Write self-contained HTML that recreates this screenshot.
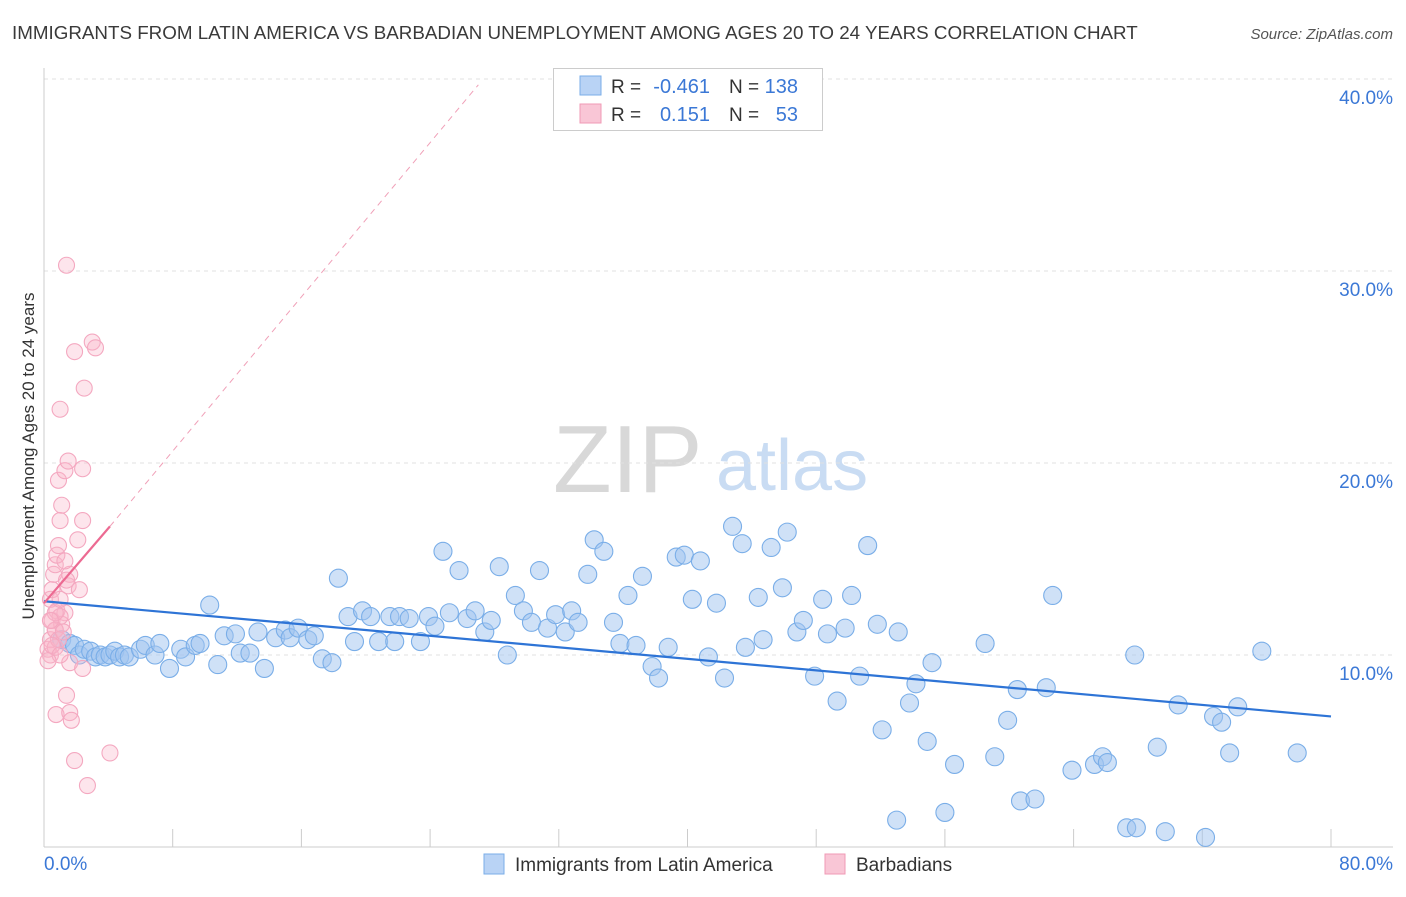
<!DOCTYPE html>
<html><head><meta charset="utf-8"><style>
body{margin:0;background:#fff;font-family:"Liberation Sans",sans-serif;}
svg text{font-family:"Liberation Sans",sans-serif;}
</style></head><body>
<svg id="chart" width="1406" height="892" xmlns="http://www.w3.org/2000/svg">
<text x="12" y="39" font-size="18.8" fill="#3a3a3a">IMMIGRANTS FROM LATIN AMERICA VS BARBADIAN UNEMPLOYMENT AMONG AGES 20 TO 24 YEARS CORRELATION CHART</text>
<text x="1393" y="39" font-size="15" fill="#555" font-style="italic" text-anchor="end">Source: ZipAtlas.com</text>
<g>
<text x="553" y="492" font-size="96" fill="#d8d8d8" font-family="Liberation Serif,serif">ZIP</text>
<text x="716" y="490" font-size="72" fill="#c9dcf3">atlas</text>
</g>
<g id="grid"></g><g id="axes"></g><g id="marks"></g><g id="lines"></g>
<g>
<rect x="553.5" y="68.5" width="269" height="62" fill="#fff" stroke="#ccc"/>
<rect x="580" y="76" width="21" height="19" fill="#b9d3f5" stroke="#7aaee8"/>
<rect x="580" y="104" width="21" height="19" fill="#f9c6d6" stroke="#f09ab5"/>
<text x="611" y="93" font-size="19" fill="#333">R =</text>
<text x="710" y="93" font-size="20" fill="#3b78d6" text-anchor="end">-0.461</text>
<text x="729" y="93" font-size="19" fill="#333">N =</text>
<text x="798" y="93" font-size="20" fill="#3b78d6" text-anchor="end">138</text>
<text x="611" y="121" font-size="19" fill="#333">R =</text>
<text x="710" y="121" font-size="20" fill="#3b78d6" text-anchor="end">0.151</text>
<text x="729" y="121" font-size="19" fill="#333">N =</text>
<text x="798" y="121" font-size="20" fill="#3b78d6" text-anchor="end">53</text>
</g>
<g>
<rect x="484" y="854" width="20" height="20" fill="#b9d3f5" stroke="#7aaee8"/>
<text x="515" y="871" font-size="19" fill="#333">Immigrants from Latin America</text>
<rect x="825" y="854" width="20" height="20" fill="#f9c6d6" stroke="#f09ab5"/>
<text x="856" y="871" font-size="19" fill="#333">Barbadians</text>
</g>
<text x="34" y="456" font-size="17" fill="#333" text-anchor="middle" transform="rotate(-90 34 456)">Unemployment Among Ages 20 to 24 years</text>
</svg>
<script>
const yTicks=[10,20,30,40];
const yTickLabels=["10.0%","20.0%","30.0%","40.0%"];
const xTickVals=[0,8,16,24,32,40,48,56,64,72,80];
const xEndLabels=["0.0%","80.0%"];
const blueX=[1.1,1.6,1.9,2.2,2.5,2.9,3.2,3.5,3.8,4.1,4.4,4.7,5.0,5.3,6.0,6.3,6.9,7.2,7.8,8.5,8.8,9.4,9.7,10.3,10.8,11.2,11.9,12.2,12.8,13.3,13.7,14.4,15.0,15.3,15.8,16.4,16.8,17.3,17.9,18.3,18.9,19.3,19.8,20.3,20.8,21.5,21.8,22.1,22.7,23.4,23.9,24.3,24.8,25.2,25.8,26.3,26.8,27.4,27.8,28.3,28.8,29.3,29.8,30.3,30.8,31.3,31.8,32.4,32.8,33.2,33.8,34.2,34.8,35.4,35.8,36.3,36.8,37.2,37.8,38.2,38.8,39.3,39.8,40.3,40.8,41.3,41.8,42.3,42.8,43.4,43.6,44.4,44.7,45.2,45.9,46.2,46.8,47.2,47.9,48.4,48.7,49.3,49.8,50.2,50.7,51.2,51.8,52.1,53.0,53.1,53.8,54.2,54.9,55.2,56.0,56.6,58.5,59.1,59.9,60.5,60.7,61.6,62.3,62.7,63.9,65.3,65.8,66.1,67.3,67.8,67.9,69.2,69.7,70.5,72.2,72.7,73.2,73.7,74.2,75.7,77.9];
const blueY=[10.8,10.6,10.5,10.0,10.3,10.2,9.9,10.0,9.9,10.0,10.2,9.9,10.0,9.9,10.3,10.5,10.0,10.6,9.3,10.3,9.9,10.5,10.6,12.6,9.5,11.0,11.1,10.1,10.1,11.2,9.3,10.9,11.3,10.9,11.4,10.8,11.0,9.8,9.6,14.0,12.0,10.7,12.3,12.0,10.7,12.0,10.7,12.0,11.9,10.7,12.0,11.5,15.4,12.2,14.4,11.9,12.3,11.2,11.8,14.6,10.0,13.1,12.3,11.7,14.4,11.4,12.1,11.2,12.3,11.7,14.2,16.0,15.4,11.7,10.6,13.1,10.5,14.1,9.4,8.8,10.4,15.1,15.2,12.9,14.9,9.9,12.7,8.8,16.7,15.8,10.4,13.0,10.8,15.6,13.5,16.4,11.2,11.8,8.9,12.9,11.1,7.6,11.4,13.1,8.9,15.7,11.6,6.1,1.4,11.2,7.5,8.5,5.5,9.6,1.8,4.3,10.6,4.7,6.6,8.2,2.4,2.5,8.3,13.1,4.0,4.3,4.7,4.4,1.0,10.0,1.0,5.2,0.8,7.4,0.5,6.8,6.5,4.9,7.3,10.2,4.9];
const pinkX=[0.4,0.5,0.7,0.8,0.4,0.5,0.6,0.7,0.8,0.9,1.0,1.1,0.9,1.0,1.3,1.5,2.4,1.4,1.9,3.0,3.2,2.5,2.4,2.1,1.6,1.5,1.3,1.1,1.0,0.25,0.4,0.7,1.6,1.4,0.75,1.6,1.7,1.9,2.7,4.1,2.4,2.2,1.3,0.7,0.9,0.5,1.0,1.2,0.25,0.7,1.0,1.4,0.4];
const pinkY=[10.8,11.8,11.3,12.3,12.9,13.4,14.2,14.7,15.2,15.7,17.0,17.8,19.1,22.8,19.6,20.1,19.7,30.3,25.8,26.3,26.0,23.9,17.0,16.0,14.2,13.6,12.2,11.6,12.0,10.3,10.0,10.4,9.6,7.9,6.9,7.0,6.6,4.5,3.2,4.9,9.3,13.4,14.9,11.3,10.8,10.5,10.0,11.2,9.7,12.2,12.9,13.9,11.8];
const blueTrend=[12.8,6.8];
const pinkTrend=[12.7,16.7,4.1,39.7,27.0];
const NS="http://www.w3.org/2000/svg";
const X0=44,X1=1331,Y0=847,YS=19.2;
function sx(v){return X0+(X1-X0)*v/80;}
function sy(v){return Y0-v*YS;}
function mk(tag,attrs,parent){const e=document.createElementNS(NS,tag);for(const k in attrs)e.setAttribute(k,attrs[k]);document.getElementById(parent).appendChild(e);return e;}
yTicks.forEach((t,i)=>{
 const l=mk('line',{x1:44,x2:1393,y1:sy(t),y2:sy(t),stroke:'#e0e0e0','stroke-dasharray':'4,4'},'grid');
 
 
 const tx=mk('text',{x:1393,y:sy(t)+25,'font-size':19,fill:'#3b78d6','text-anchor':'end'},'axes');
 tx.textContent=yTickLabels[i];
 
 
});
const ax=mk('line',{x1:44,x2:1393,y1:847,y2:847,stroke:'#ccc'},'axes');


const ay=mk('line',{x1:44,x2:44,y1:68,y2:847,stroke:'#ccc'},'axes');


xTickVals.forEach(v=>{
 const t=mk('line',{x1:sx(v),x2:sx(v),y1:829,y2:847,stroke:'#ccc'},'axes');
 
 
});
const xl0=mk('text',{x:44,y:870,'font-size':19,fill:'#3b78d6'},'axes');xl0.textContent=xEndLabels[0];


const xl1=mk('text',{x:1393,y:870,'font-size':19,fill:'#3b78d6','text-anchor':'end'},'axes');xl1.textContent=xEndLabels[1];


blueX.forEach((v,i)=>{
 const c=mk('circle',{cx:sx(v),cy:sy(blueY[i]),r:9,fill:'rgba(160,196,240,0.5)',stroke:'#7aaee8','stroke-width':1.1},'marks');
 
 
});
pinkX.forEach((v,i)=>{
 const c=mk('circle',{cx:sx(v),cy:sy(pinkY[i]),r:8,fill:'rgba(248,180,200,0.35)',stroke:'#f4a8c0','stroke-width':1.1},'marks');
 
 
});
const bl=mk('line',{x1:sx(0),y1:sy(blueTrend[0]),x2:sx(80),y2:sy(blueTrend[1]),stroke:'#2e74d6','stroke-width':2.2},'lines');


const pd=mk('line',{x1:sx(pinkTrend[2]),y1:sy(pinkTrend[1]),x2:sx(pinkTrend[4]),y2:sy(pinkTrend[3]),stroke:'#f0a0b8','stroke-width':1,'stroke-dasharray':'6,5'},'lines');


const pl=mk('line',{x1:sx(0),y1:sy(pinkTrend[0]),x2:sx(pinkTrend[2]),y2:sy(pinkTrend[1]),stroke:'#ec6a92','stroke-width':2.2},'lines');


</script>
</body></html>
